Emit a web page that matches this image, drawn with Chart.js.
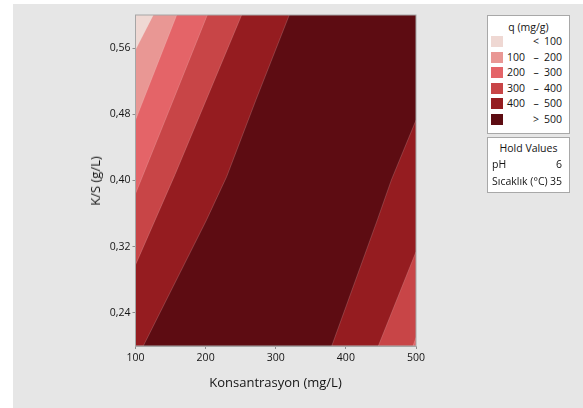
<!DOCTYPE html>
<html>
<head>
<meta charset="utf-8">
<script src="https://cdn.jsdelivr.net/npm/chart.js@4.4.1/dist/chart.umd.min.js"></script>
<style>
  html, body { margin: 0; padding: 0; background: #ffffff; }
  #wrap { position: relative; width: 583px; height: 408px; overflow: hidden; font-family: 'Open Sans', sans-serif; color: #141414; }
  #panel { position: absolute; left: 13px; top: 4px; right: 0; bottom: 0; background: #e6e6e6; }
  #contour { position: absolute; left: 0; top: 0; }
  .title-x { position: absolute; left: 135px; width: 281px; top: 373px; text-align: center; font-size: 13px; }
  .title-y { position: absolute; left: 95px; top: 181px; transform: translate(-50%, -50%) rotate(-90deg); font-size: 13px; white-space: nowrap; }
  .box { position: absolute; left: 487px; width: 83px; background: #ffffff; border: 1px solid #a8a8a8; box-sizing: border-box; font-size: 10.5px; }
  #levels { top: 15px; height: 119px; }
  #hold { top: 137px; height: 56px; }
  .box-title { text-align: center; line-height: 14px; }
  .row { position: relative; height: 15.6px; line-height: 15.6px; }
  .swatch { position: absolute; left: 3px; top: 2px; width: 12px; height: 11px; }
  .lo { position: absolute; right: 44px; top: 0; }
  .dash { position: absolute; left: 42px; width: 12px; top: 0; text-align: center; }
  .hi { position: absolute; right: 7px; top: 0; }
  .hold-row { position: relative; height: 18px; line-height: 18px; padding-left: 4px; }
  .hold-row .val { position: absolute; right: 7px; top: 0; }
</style>
</head>
<body>
<div id="wrap">
  <div id="panel"></div>
  <canvas id="contour" width="583" height="408"></canvas>
  <div class="title-x">Konsantrasyon (mg/L)</div>
  <div class="title-y">K/S (g/L)</div>
  <div class="box" id="levels"><div class="box-title" style="margin-top:4px">q (mg/g)</div></div>
  <div class="box" id="hold">
    <div class="box-title" style="margin-top:3px">Hold Values</div>
    <div class="hold-row"><span>pH</span><span class="val">6</span></div>
    <div class="hold-row" style="margin-top:-1px"><span>Sıcaklık (°C)</span><span class="val">35</span></div>
  </div>
</div>
<script>
// axis ranges and ticks
const xRange = [100, 500];
const yRange = [0.2, 0.6];
const xTicks = [100, 200, 300, 400, 500];
const yTicks = [0.24, 0.32, 0.40, 0.48, 0.56];

// contour levels of q (mg/g)
const levelLow = [null, 100, 200, 300, 400, 500];
const levelHigh = [100, 200, 300, 400, 500, null];
const levelColors = ['#efd8d3', '#e99794', '#e46468', '#c84547', '#951c20', '#5d0c12'];

// contour lines, traced from the top edge downwards (x = Konsantrasyon, y = K/S)
// left flank: q rises with concentration
const q100x = [125.4, 100];
const q100y = [0.6, 0.558];
const q200x = [158.8, 100];
const q200y = [0.6, 0.473];
const q300x = [202.4, 154, 100];
const q300y = [0.6, 0.4975, 0.384];
const q400x = [251.4, 156.3, 100];
const q400y = [0.6, 0.407, 0.298];
const q500x = [319.3, 271.8, 230, 201.5, 111.1];
const q500y = [0.6, 0.4975, 0.4046, 0.3527, 0.2];
// right flank: q falls again at high concentration
const q500rx = [500, 465, 445, 379.8];
const q500ry = [0.473, 0.401, 0.3527, 0.2];
const q400rx = [500, 446.2];
const q400ry = [0.314, 0.2];
const q300rx = [500, 495.7];
const q300ry = [0.2104, 0.2];

function toPoints(xs, ys) {
    return xs.map((x, i) => ({ x: x, y: ys[i] }));
}

// region to the left of a contour line, closed along the left edge
function leftRegion(xs, ys) {
    const pts = toPoints(xs, ys);
    const last = pts[pts.length - 1];
    if (last.x > xRange[0]) pts.push({ x: xRange[0], y: yRange[0] });
    pts.push({ x: xRange[0], y: yRange[1] });
    return pts;
}

// region to the right of a contour line, closed along the bottom-right corner
function rightRegion(xs, ys) {
    const pts = toPoints(xs, ys);
    pts.push({ x: xRange[1], y: yRange[0] });
    return pts;
}

// 'order' decides painting: higher order is painted first
function region(points, color, order) {
    return {
        data: points,
        showLine: true,
        fill: 'shape',
        backgroundColor: color,
        borderColor: 'rgba(255,255,255,0.22)',
        borderWidth: 0.8,
        pointRadius: 0,
        tension: 0,
        order: order
    };
}

const plane = [
    { x: xRange[0], y: yRange[0] }, { x: xRange[1], y: yRange[0] },
    { x: xRange[1], y: yRange[1] }, { x: xRange[0], y: yRange[1] }
];

const datasets = [
    // whole plane starts at the top level (> 500)
    region(plane, levelColors[5], 10),
    region(leftRegion(q500x, q500y), levelColors[4], 9),
    region(leftRegion(q400x, q400y), levelColors[3], 8),
    region(leftRegion(q300x, q300y), levelColors[2], 7),
    region(leftRegion(q200x, q200y), levelColors[1], 6),
    region(leftRegion(q100x, q100y), levelColors[0], 5),
    region(rightRegion(q500rx, q500ry), levelColors[4], 4),
    region(rightRegion(q400rx, q400ry), levelColors[3], 3),
    region(rightRegion(q300rx, q300ry), levelColors[2], 2)
];
datasets[0].borderWidth = 0;

// gray frame round the plot area
const plotFrame = {
    id: 'plotFrame',
    afterDraw(chart) {
        const a = chart.chartArea;
        const ctx = chart.ctx;
        ctx.save();
        ctx.strokeStyle = '#a6a6a6';
        ctx.lineWidth = 1;
        ctx.strokeRect(a.left, a.top, a.right - a.left, a.bottom - a.top);
        ctx.restore();
    }
};

const tickFont = { family: 'Open Sans', size: 10.5 };

new Chart(document.getElementById('contour'), {
    type: 'scatter',
    data: { datasets: datasets },
    options: {
        responsive: false,
        animation: false,
        layout: { padding: { left: 0, top: 15, right: 167, bottom: 0 } },
        plugins: { legend: { display: false }, tooltip: { enabled: false } },
        scales: {
            x: {
                type: 'linear',
                min: xRange[0],
                max: xRange[1],
                z: 1,
                afterBuildTicks: s => { s.ticks = xTicks.map(v => ({ value: v })); },
                afterFit: s => { s.height = 62; },
                ticks: { color: '#141414', font: tickFont, padding: 3, maxRotation: 0 },
                grid: { display: true, drawOnChartArea: false, tickLength: 3, color: '#8c8c8c' },
                border: { color: '#a6a6a6' }
            },
            y: {
                type: 'linear',
                min: yRange[0],
                max: yRange[1],
                z: 1,
                afterBuildTicks: s => { s.ticks = yTicks.map(v => ({ value: v })); },
                afterFit: s => { s.width = 135.5; },
                ticks: {
                    color: '#141414',
                    font: tickFont,
                    padding: 2,
                    callback: v => v.toFixed(2).replace('.', ',')
                },
                grid: { display: true, drawOnChartArea: false, tickLength: 3, color: '#8c8c8c' },
                border: { color: '#a6a6a6' }
            }
        }
    },
    plugins: [plotFrame]
});

// legend rows for the contour levels
const levelsBox = document.getElementById('levels');
levelColors.forEach((c, i) => {
    const row = document.createElement('div');
    row.className = 'row';
    const sw = document.createElement('span');
    sw.className = 'swatch';
    sw.style.background = c;
    row.appendChild(sw);
    const lo = document.createElement('span');
    lo.className = 'lo';
    const dash = document.createElement('span');
    dash.className = 'dash';
    const hi = document.createElement('span');
    hi.className = 'hi';
    if (levelLow[i] === null) {
        dash.textContent = '<';
        hi.textContent = levelHigh[i];
    } else if (levelHigh[i] === null) {
        dash.textContent = '>';
        hi.textContent = levelLow[i];
    } else {
        lo.textContent = levelLow[i];
        dash.textContent = '–';
        hi.textContent = levelHigh[i];
    }
    row.appendChild(lo);
    row.appendChild(dash);
    row.appendChild(hi);
    levelsBox.appendChild(row);
});
</script>
</body>
</html>
